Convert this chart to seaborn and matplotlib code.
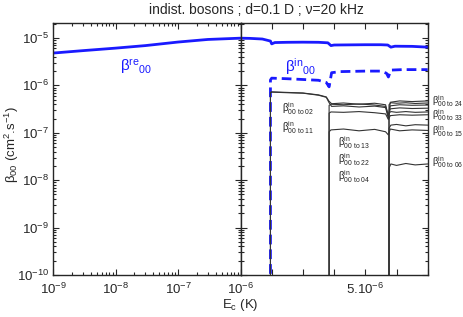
import matplotlib
matplotlib.use("Agg")
import matplotlib.pyplot as plt
import matplotlib.ticker as mticker
import numpy as np
import seaborn as sns

# energies in units of 1e-6 K for the linear part
FLOOR = 1e-11  # below the axis, used for the vertical rises at thresholds

# beta_re, log part (E_c from 1e-9 to 1e-6 K)
ec_log = [1e-9, 3e-9, 1e-8, 3e-8, 1e-7, 3e-7, 1e-6]
beta_re_log = [4.8e-6, 5.4e-6, 6.1e-6, 6.9e-6, 8.2e-6, 9.3e-6, 9.9e-6]

# beta_re, linear part
ec_re = [1.0, 1.3, 1.7, 1.96, 2.0, 2.1, 2.5, 3.0, 3.5, 3.8, 3.9, 4.0, 4.5,
         5.0, 5.5, 5.72, 5.82, 5.95, 6.5, 7.0]
beta_re_lin = [9.9e-6, 9.8e-6, 9.5e-6, 8.6e-6, 7.5e-6, 8.0e-6, 8.1e-6, 8.15e-6,
               8.1e-6, 7.9e-6, 6.9e-6, 7.1e-6, 7.15e-6, 7.2e-6, 7.2e-6, 7.1e-6,
               6.4e-6, 6.7e-6, 6.65e-6, 6.4e-6]

# total beta_in (dashed)
ec_in = [1.96, 1.96, 2.0, 2.5, 3.0, 3.5, 3.75, 3.84, 3.92, 4.2, 5.0, 5.5, 5.68,
         5.74, 5.82, 6.2, 7.0]
beta_in = [FLOOR, 1.3e-6, 1.42e-6, 1.38e-6, 1.33e-6, 1.28e-6, 1.15e-6, 0.93e-6,
           1.85e-6, 1.95e-6, 2.0e-6, 2.0e-6, 1.8e-6, 1.5e-6, 2.1e-6, 2.15e-6,
           2.15e-6]

# partial channels
ec_ch1 = [1.96, 1.96, 2.0, 2.5, 3.0, 3.5, 3.75, 3.84, 3.92, 4.3, 4.8, 5.3,
          5.65, 5.74, 5.8, 6.1, 6.5, 7.0]
beta_02 = [FLOOR, 7.1e-7, 7.3e-7, 7.1e-7, 6.9e-7, 6.3e-7, 5.7e-7, 4.6e-7,
           4.1e-7, 4.25e-7, 4.0e-7, 4.2e-7, 3.9e-7, 2.2e-7, 4.4e-7, 4.7e-7,
           4.55e-7, 4.7e-7]
beta_11 = [FLOOR, 7.0e-7, 7.2e-7, 7.0e-7, 6.85e-7, 6.2e-7, 5.6e-7, 4.3e-7,
           3.6e-7, 3.7e-7, 3.5e-7, 3.65e-7, 3.4e-7, 2.0e-7, 3.7e-7, 3.9e-7,
           3.8e-7, 3.85e-7]

ec_ch2 = [3.84, 3.84, 3.9, 4.3, 4.8, 5.3, 5.65, 5.74, 5.8, 6.1, 6.5, 7.0]
beta_13 = [FLOOR, 3.8e-7, 4.0e-7, 3.9e-7, 4.05e-7, 3.85e-7, 3.6e-7, 2.3e-7,
           3.2e-7, 3.35e-7, 3.25e-7, 3.3e-7]
beta_22 = [FLOOR, 2.6e-7, 2.75e-7, 2.7e-7, 2.8e-7, 2.65e-7, 2.5e-7, 1.9e-7,
           2.3e-7, 2.4e-7, 2.35e-7, 2.4e-7]
beta_04 = [FLOOR, 1.05e-7, 1.15e-7, 1.2e-7, 1.1e-7, 1.18e-7, 1.05e-7, 0.9e-7,
           1.2e-7, 1.1e-7, 1.15e-7, 1.12e-7]

ec_ch3 = [5.76, 5.76, 5.82, 6.0, 6.3, 6.6, 7.0]
beta_24 = [FLOOR, 3.9e-7, 4.3e-7, 4.2e-7, 4.3e-7, 4.15e-7, 4.25e-7]
beta_33 = [FLOOR, 2.6e-7, 2.8e-7, 2.7e-7, 2.8e-7, 2.7e-7, 2.75e-7]
beta_15 = [FLOOR, 1.25e-7, 1.45e-7, 1.5e-7, 1.4e-7, 1.48e-7, 1.45e-7]
beta_06 = [FLOOR, 1.8e-8, 2.2e-8, 2.05e-8, 2.25e-8, 2.1e-8, 2.2e-8]

channels = [(ec_ch1, beta_02), (ec_ch1, beta_11), (ec_ch2, beta_13),
            (ec_ch2, beta_22), (ec_ch2, beta_04), (ec_ch3, beta_24),
            (ec_ch3, beta_33), (ec_ch3, beta_15), (ec_ch3, beta_06)]

BLUE = "#1a1aff"
YLIM = (1e-10, 2.07e-5)

sns.set_style("ticks")
plt.rcParams["font.family"] = ["Liberation Sans", "DejaVu Sans"]
plt.rcParams["mathtext.fontset"] = "custom"
plt.rcParams["mathtext.rm"] = "Liberation Sans"
plt.rcParams["mathtext.it"] = "Liberation Sans"
plt.rcParams["mathtext.default"] = "regular"

fig = plt.figure(figsize=(4.63, 3.17), dpi=100)
ax1 = fig.add_axes([53 / 463, 0.1325, 187.5 / 463, 0.795])
ax2 = fig.add_axes([240.5 / 463, 0.1325, 187.2 / 463, 0.795])

# left panel: log energy
sns.lineplot(x=ec_log, y=beta_re_log, ax=ax1, color=BLUE, lw=2.0,
             estimator=None, sort=False)
ax1.set_xscale("log")
ax1.set_yscale("log")
ax1.set_xlim(1e-9, 1e-6)
ax1.set_ylim(*YLIM)
ax1.set_xticks([1e-9, 1e-8, 1e-7, 1e-6])

# right panel: linear energy
x = lambda v: np.array(v) * 1e-6
sns.lineplot(x=x(ec_re), y=beta_re_lin, ax=ax2, color=BLUE, lw=2.0,
             estimator=None, sort=False)
sns.lineplot(x=x(ec_in), y=beta_in, ax=ax2, color=BLUE, lw=2.0,
             linestyle=(0, (3.5, 1.8)), estimator=None, sort=False)
for ex, by in channels:
    sns.lineplot(x=x(ex), y=by, ax=ax2, color="#333333", lw=0.8,
                 estimator=None, sort=False)
ax2.set_yscale("log")
ax2.set_xlim(1e-6, 7e-6)
ax2.set_ylim(*YLIM)
ax2.set_xticks(x([1, 2, 3, 4, 5, 6, 7]))
ax2.set_xticklabels(["", "", "", "", r"$5.10^{-6}$", "", ""])

for ax in (ax1, ax2):
    ax.set_xlabel("")
    ax.set_ylabel("")
    for s in ax.spines.values():
        s.set_linewidth(1.0)
    ax.tick_params(which="both", direction="in", top=True, right=True,
                   left=True, bottom=True, labelsize=9.5, pad=3, width=0.8)
    ax.tick_params(axis="x", pad=5)
    ax.tick_params(which="major", length=4)
    ax.tick_params(which="minor", length=2)
    ax.yaxis.set_major_locator(mticker.LogLocator(base=10, numticks=20))
    ax.yaxis.set_minor_locator(mticker.LogLocator(base=10, subs=np.arange(2, 10), numticks=20))
    ax.yaxis.set_minor_formatter(mticker.NullFormatter())
ax1.xaxis.set_minor_locator(mticker.LogLocator(base=10, subs=np.arange(2, 10), numticks=20))
ax1.xaxis.set_minor_formatter(mticker.NullFormatter())
ax2.xaxis.set_minor_locator(mticker.NullLocator())
ax2.tick_params(labelleft=False)
ax1.set_ylim(*YLIM)
ax2.set_ylim(*YLIM)

# labels
ax1.text(1.19e-8, 2.45e-6, r"$\beta^{re}{}_{00}$", color=BLUE, fontsize=11,
         va="center", ha="left")
ax2.text(2.43e-6, 2.45e-6, r"$\beta^{in}{}_{00}$", color=BLUE, fontsize=11,
         va="center", ha="left")

inner = [(2.33e-6, 3.18e-7, "02"), (2.33e-6, 1.26e-7, "11"),
         (4.12e-6, 6.1e-8, "13"), (4.12e-6, 2.67e-8, "22"),
         (4.12e-6, 1.17e-8, "04")]
for ex, by, lab in inner:
    ax2.text(ex, by, r"$\beta^{in}_{00\ to\ %s}$" % lab, fontsize=7,
             va="center", ha="left", color="#222222")
outer = [(4.69e-7, "24"), (2.27e-7, "33"), (1.09e-7, "15"), (2.31e-8, "06")]
for by, lab in outer:
    ax2.text(7.14e-6, by, r"$\beta^{in}_{00\ to\ %s}$" % lab, fontsize=6.8,
             va="center", ha="left", color="#222222", clip_on=False)

fig.text(256 / 463, 1 - 10 / 317, "indist. bosons ; d=0.1 D ; ν=20 kHz",
         ha="center", va="center", fontsize=10)
fig.text(240 / 463, 1 - 305 / 317, r"$E_c$ (K)", ha="center", va="center",
         fontsize=9.5)
fig.text(12 / 463, 1 - 145 / 317, r"$\beta_{00}$ (cm$^2$.s$^{-1}$)",
         ha="center", va="center", rotation=90, fontsize=9.5)

fig.savefig("out.png", dpi=100)
